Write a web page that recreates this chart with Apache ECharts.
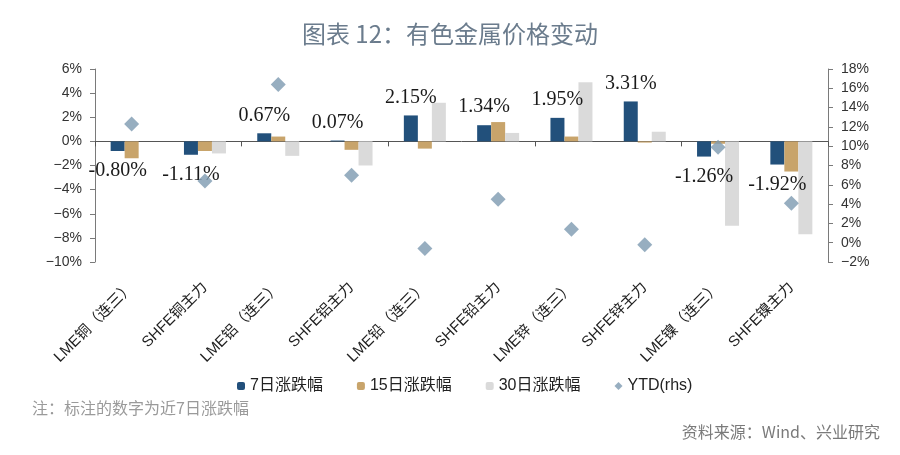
<!DOCTYPE html>
<html><head><meta charset="utf-8">
<script src="https://cdn.jsdelivr.net/npm/echarts@6/dist/echarts.min.js"></script>
<style>html,body{margin:0;padding:0;background:#fff}#c{width:900px;height:455px}</style>
</head><body><div id="c"></div>
<script>
const categories = ['LME铜（连三）','SHFE铜主力','LME铝（连三）','SHFE铝主力','LME铅（连三）','SHFE铅主力','LME锌（连三）','SHFE锌主力','LME镍（连三）','SHFE镍主力'];
const chg7d  = [-0.80, -1.11, 0.67, 0.07, 2.15, 1.34, 1.95, 3.31, -1.26, -1.92];
const chg15d = [-1.4, -0.8, 0.4, -0.7, -0.6, 1.6, 0.4, -0.1, -0.2, -2.5];
const chg30d = [0, -1.0, -1.2, -2.0, 3.2, 0.7, 4.9, 0.8, -7.0, -7.7];
const ytd    = [12.3, 6.4, 16.4, 7.0, -0.6, 4.5, 1.4, -0.2, 9.9, 4.1];
const seriesNames = ['7日涨跌幅', '15日涨跌幅', '30日涨跌幅', 'YTD(rhs)'];
const leftMin = -10, leftMax = 6, leftStep = 2;
const rightMin = -2, rightMax = 18, rightStep = 2;
const titleText = '图表 12：有色金属价格变动';
const noteText = '注：标注的数字为近7日涨跌幅';
const sourceText = '资料来源：Wind、兴业研究';

const colors = ['#22507b', '#c8a46b', '#dadada', '#7d9ab0'];
const axisColor = '#7a7a7a';
const pct = v => (v < 0 ? '\u2212' + Math.abs(v) : v) + '%';

const chart = echarts.init(document.getElementById('c'), null, {renderer: 'canvas'});
chart.setOption({
  animation: false,
  backgroundColor: '#fff',
  title: {
    text: titleText, left: 'center', top: 17,
    textStyle: {fontSize: 24, fontWeight: 'normal', color: '#6b7c8d', fontFamily: 'Noto Sans CJK SC'}
  },
  legend: {
    data: seriesNames, left: 232, top: 373, itemWidth: 8, itemHeight: 8, itemGap: 34,
    textStyle: {fontSize: 16, color: '#222', fontFamily: 'Liberation Sans, Noto Sans CJK SC'}
  },
  graphic: [
    {type: 'text', left: 32, top: 400, style: {text: noteText, fontSize: 16, fill: '#9a9a9a', fontFamily: 'Noto Sans CJK SC'}},
    {type: 'text', right: 20, top: 424, style: {text: sourceText, fontSize: 16, fill: '#7a7a7a', fontFamily: 'Noto Sans CJK SC'}}
  ],
  grid: {left: 95, right: 72, top: 69, bottom: 193},
  xAxis: [
    {
      type: 'category', data: categories, position: 'bottom',
      axisLine: {show: false, onZero: false}, axisTick: {show: false},
      axisLabel: {rotate: 45, margin: 23, fontSize: 15, color: '#222', fontFamily: 'Liberation Sans, Noto Sans CJK SC', interval: 0}
    },
    {
      type: 'category', data: categories, position: 'bottom',
      axisLine: {show: true, onZero: true, onZeroAxisIndex: 0, lineStyle: {color: '#555', width: 1}},
      axisTick: {show: true, length: 5, lineStyle: {color: '#555'}},
      axisLabel: {show: false}
    }
  ],
  yAxis: [
    {
      type: 'value', min: leftMin, max: leftMax, interval: leftStep, position: 'left',
      splitLine: {show: false},
      axisLine: {show: true, lineStyle: {color: axisColor}},
      axisTick: {show: true, length: 5, lineStyle: {color: axisColor}},
      axisLabel: {formatter: pct, fontSize: 14, color: '#333', margin: 13, fontFamily: 'Liberation Sans'}
    },
    {
      type: 'value', min: rightMin, max: rightMax, interval: rightStep, position: 'right',
      splitLine: {show: false},
      axisLine: {show: true, lineStyle: {color: axisColor}},
      axisTick: {show: true, length: 5, lineStyle: {color: axisColor}},
      axisLabel: {formatter: pct, fontSize: 14, color: '#333', margin: 13, fontFamily: 'Liberation Sans'}
    }
  ],
  series: [
    {
      name: seriesNames[0], type: 'bar', xAxisIndex: 0, yAxisIndex: 0, barWidth: 14, barGap: '0%',
      itemStyle: {color: colors[0]},
      data: chg7d.map(v => ({
        value: v,
        label: {position: v >= 0 ? 'top' : 'bottom', distance: v >= 0 ? 8 : 10}
      })),
      label: {
        show: true, fontSize: 20, color: '#1a1a1a', fontFamily: 'Liberation Serif',
        formatter: p => p.value.toFixed(2) + '%'
      },
      z: 3
    },
    {name: seriesNames[1], type: 'bar', xAxisIndex: 0, yAxisIndex: 0, barWidth: 14, barGap: '0%', itemStyle: {color: colors[1]}, data: chg15d, z: 3},
    {name: seriesNames[2], type: 'bar', xAxisIndex: 0, yAxisIndex: 0, barWidth: 14, barGap: '0%', itemStyle: {color: colors[2]}, data: chg30d, z: 3},
    {name: seriesNames[3], type: 'scatter', xAxisIndex: 0, yAxisIndex: 1, symbol: 'diamond', symbolSize: 15, itemStyle: {color: colors[3]}, data: ytd, z: 4}
  ]
});
</script></body></html>
